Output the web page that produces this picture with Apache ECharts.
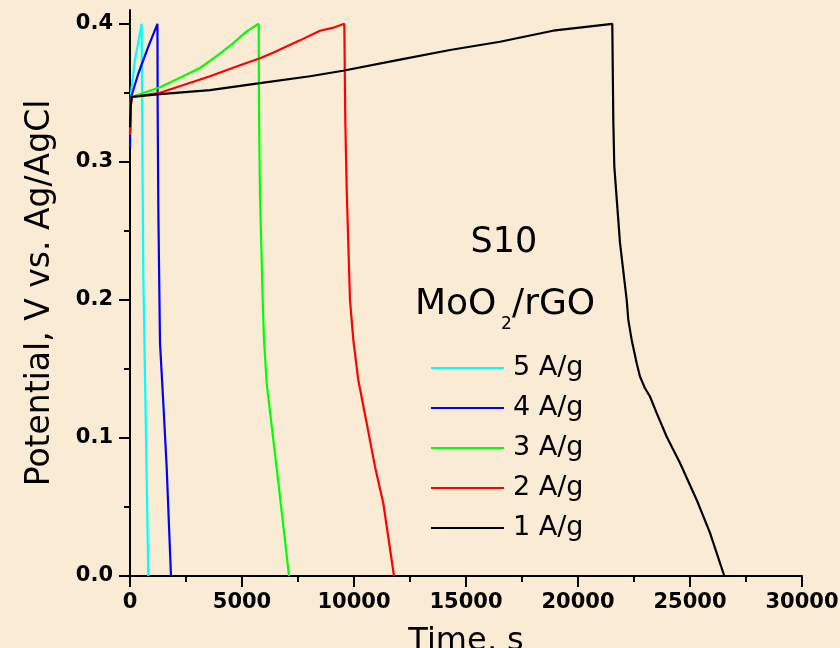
<!DOCTYPE html>
<html><head><meta charset="utf-8">
<script src="https://cdn.jsdelivr.net/npm/echarts@6/dist/echarts.min.js"></script>
<style>html,body{margin:0;padding:0;background:#FAEBD4}#c{width:840px;height:648px}</style>
</head><body><div id="c"></div><script>
// ---- data ----
const seriesNames = ['5 A/g', '4 A/g', '3 A/g', '2 A/g', '1 A/g'];
const yTicks = [0, 0.1, 0.2, 0.3, 0.4];
const yMinorTicks = [0.05, 0.15, 0.25, 0.35];

const t5 = [0, 15, 45, 223, 521, 551, 595, 670, 744, 818];
const v5 = [0.32, 0.338, 0.35, 0.374, 0.400, 0.314, 0.217, 0.144, 0.072, 0.0];

const t4 = [0, 20, 50, 372, 818, 1225, 1235, 1265, 1339, 1488, 1637, 1830];
const v4 = [0.31, 0.335, 0.347, 0.364, 0.3835, 0.400, 0.338, 0.265, 0.169, 0.125, 0.079, 0.0];

const t3 = [0, 30, 76, 1339, 2232, 3125, 3900, 4613, 5208, 5745, 5760, 5804, 5924, 5982, 6103, 6399, 6696, 7098];
const v3 = [0.32, 0.34, 0.347, 0.354, 0.361, 0.368, 0.377, 0.386, 0.3945, 0.400, 0.333, 0.275, 0.200, 0.171, 0.1396, 0.0986, 0.0575, 0.0];

const t2 = [0, 30, 76, 1339, 3571, 4911, 5804, 6384, 7589, 8482, 9040, 9567, 9612, 9674, 9821, 9969, 10192, 10567, 10938, 11308, 11786];
const v2 = [0.32, 0.34, 0.347, 0.350, 0.362, 0.370, 0.375, 0.379, 0.388, 0.395, 0.397, 0.400, 0.330, 0.2797, 0.200, 0.171, 0.142, 0.1106, 0.0792, 0.0527, 0.0];

const t1 = [0, 30, 76, 1339, 3571, 5804, 8036, 9509, 12054, 14286, 16518, 18884, 21531, 21576, 21621, 21875, 22174, 22246, 22397, 22620, 22768, 22991, 23214, 23513, 23960, 24554, 25299, 25893, 26531];
const v1 = [0.325, 0.34, 0.347, 0.349, 0.352, 0.357, 0.362, 0.366, 0.374, 0.381, 0.387, 0.395, 0.400, 0.3304, 0.2966, 0.2413, 0.200, 0.1855, 0.171, 0.1541, 0.1444, 0.136, 0.130, 0.118, 0.1009, 0.0819, 0.0551, 0.0312, 0.0];

// ---- styles ----
const colors = ['#00FFFF', '#0000FF', '#00FF00', '#FF0000', '#000000'];
const FONT = 'DejaVu Sans';
const times = [t5, t4, t3, t2, t1];
const volts = [v5, v4, v3, v2, v1];

const chart = echarts.init(document.getElementById('c'), null, {renderer: 'canvas'});
const axisLine = {show: true, onZero: false, lineStyle: {color: '#000', width: 2}};
const tickStyle = {color: '#000', width: 2};
const labelStyle = {fontFamily: FONT, fontWeight: 'bold', fontSize: 21, color: '#000'};

chart.setOption({
  backgroundColor: '#FAEBD4',
  animation: false,
  grid: {left: 130, right: 38, top: 10, bottom: 72, containLabel: false, outerBoundsMode: 'none'},
  xAxis: {
    type: 'value', min: 0, max: 30000, interval: 5000,
    axisLine: axisLine,
    axisTick: {show: true, length: 11, lineStyle: tickStyle},
    minorTick: {show: true, splitNumber: 2, length: 6, lineStyle: tickStyle},
    splitLine: {show: false}, minorSplitLine: {show: false},
    axisLabel: Object.assign({margin: 16, formatter: v => String(v)}, labelStyle),
    name: 'Time, s', nameLocation: 'middle', nameGap: 50,
    nameTextStyle: {fontFamily: FONT, fontSize: 32, color: '#000'}
  },
  yAxis: [{
    type: 'value', min: 0, max: 0.41, position: 'left',
    axisLine: axisLine,
    axisTick: {show: true, length: 11, lineStyle: tickStyle, customValues: yTicks},
    splitLine: {show: false},
    axisLabel: Object.assign({margin: 17, customValues: yTicks, formatter: v => Number(v).toFixed(1)}, labelStyle),
    name: 'Potential, V vs. Ag/AgCl', nameLocation: 'middle', nameGap: 73, nameRotate: 90,
    nameTextStyle: {fontFamily: FONT, fontSize: 33, color: '#000'}
  }, {
    type: 'value', min: 0, max: 0.41, position: 'left',
    axisLine: {show: false},
    axisTick: {show: true, length: 6, lineStyle: tickStyle, customValues: yMinorTicks},
    axisLabel: {show: false}, splitLine: {show: false}
  }],
  legend: {
    orient: 'vertical', left: 426, top: 343,
    itemWidth: 73, itemHeight: 2, itemGap: 0, icon: 'rect',
    data: seriesNames,
    textStyle: {fontFamily: FONT, fontSize: 27, color: '#000', lineHeight: 40, padding: [0, 0, 0, 4]}
  },
  graphic: [
    {type: 'text', x: 504, y: 243, style: {text: 'S10', font: '35px "DejaVu Sans"', fill: '#000', align: 'center', verticalAlign: 'middle'}},
    {type: 'text', x: 415, y: 305, style: {text: 'MoO', font: '36px "DejaVu Sans"', fill: '#000', align: 'left', verticalAlign: 'middle'}},
    {type: 'text', x: 501, y: 325, style: {text: '2', font: '17px "DejaVu Sans"', fill: '#000', align: 'left', verticalAlign: 'middle'}},
    {type: 'text', x: 512, y: 305, style: {text: '/rGO', font: '36px "DejaVu Sans"', fill: '#000', align: 'left', verticalAlign: 'middle'}}
  ],
  series: seriesNames.map((n, i) => ({
    name: n, type: 'line', symbol: 'none', showSymbol: false,
    data: times[i].map((t, k) => [t, volts[i][k]]),
    lineStyle: {color: colors[i], width: 2.2},
    itemStyle: {color: colors[i]},
    z: 2 + i
  }))
});
</script></body></html>
